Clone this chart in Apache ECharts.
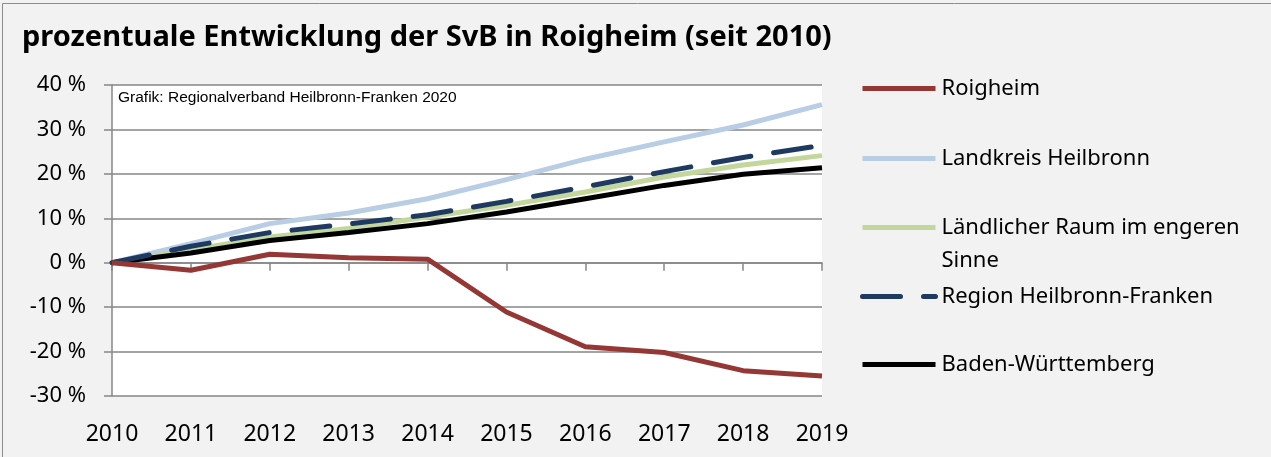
<!DOCTYPE html>
<html>
<head>
<meta charset="utf-8">
<script src="https://cdn.jsdelivr.net/npm/echarts@6/dist/echarts.min.js"></script>
<style>
  html, body { margin: 0; padding: 0; background: #f2f2f2; }
  #chart { width: 1271px; height: 457px; }
</style>
</head>
<body>
<div id="chart"></div>
<script>
const years = ['2010', '2011', '2012', '2013', '2014', '2015', '2016', '2017', '2018', '2019'];

const roigheim    = [0, -1.7, 1.9, 1.1, 0.8, -11.1, -18.9, -20.2, -24.3, -25.5];
const landkreis   = [0, 4.3, 8.8, 11.2, 14.4, 18.7, 23.3, 27.2, 31.0, 35.6];
const laendlich   = [0, 2.9, 5.8, 7.7, 10.3, 12.9, 15.9, 19.3, 22.0, 24.1];
const region      = [0, 3.7, 6.8, 8.7, 10.8, 13.8, 17.1, 20.5, 23.7, 26.4];
const bw          = [0, 2.2, 5.0, 6.8, 8.8, 11.4, 14.4, 17.4, 19.9, 21.4];

const FONT = '"Noto Sans", sans-serif';

const chart = echarts.init(document.getElementById('chart'));

const mkLegend = (name, top, formatter) => ({
  data: [name],
  left: 855,
  top: top,
  orient: 'vertical',
  itemWidth: 73,
  itemHeight: 14,
  formatter: formatter,
  itemStyle: { opacity: 0 },
  lineStyle: { width: 5 },
  textStyle: { fontFamily: FONT, fontSize: 22, color: '#000', lineHeight: 33, padding: [0, 0, 0, 1] },
  selectedMode: false
});

chart.setOption({
  backgroundColor: '#f2f2f2',
  animation: false,
  title: {
    text: 'prozentuale Entwicklung der SvB in Roigheim (seit 2010)',
    left: 17,
    top: 18,
    textStyle: { fontFamily: FONT, fontSize: 29, fontWeight: 'bold', color: '#000' }
  },
  graphic: [
    {
      type: 'rect',
      shape: { x: 2.5, y: 3.5, width: 1300, height: 500 },
      style: { fill: 'none', stroke: '#8c8c8c', lineWidth: 1 },
      silent: true
    },
    {
      type: 'rect',
      shape: { x: 112, y: 85, width: 710, height: 311 },
      style: { fill: '#ffffff' },
      z: -1,
      silent: true
    },
    {
      type: 'text',
      left: 118,
      top: 90,
      style: {
        text: 'Grafik: Regionalverband Heilbronn-Franken 2020',
        font: '15.5px "Liberation Sans", Arial, sans-serif',
        fill: '#000'
      },
      z: 10
    }
  ],
  legend: [
    mkLegend('Roigheim', 67),
    mkLegend('Landkreis Heilbronn', 137),
    mkLegend('Ländlicher Raum im engeren Sinne', 173, () => '\nLändlicher Raum im engeren\nSinne'),
    mkLegend('Region Heilbronn-Franken', 275),
    mkLegend('Baden-Württemberg', 343)
  ],
  grid: { left: 112, right: 1271 - 822, top: 85, bottom: 457 - 396, outerBoundsMode: 'none', containLabel: false },
  xAxis: [
    {
      // zero line with ticks
      type: 'category',
      data: years,
      boundaryGap: false,
      axisLine: { onZero: true, lineStyle: { color: '#868686', width: 1.5 } },
      axisTick: { show: true, length: 8, alignWithLabel: true, lineStyle: { color: '#868686', width: 1.5 } },
      axisLabel: { show: false },
      splitLine: { show: false }
    },
    {
      // year labels below the plot
      type: 'category',
      data: years,
      position: 'bottom',
      boundaryGap: false,
      axisLine: { show: false, onZero: false },
      axisTick: { show: false },
      axisLabel: { fontFamily: FONT, fontSize: 23, color: '#000', margin: 27 },
      splitLine: { show: false }
    }
  ],
  yAxis: {
    type: 'value',
    min: -30,
    max: 40,
    interval: 10,
    axisLine: { show: true, lineStyle: { color: '#868686', width: 1.5 } },
    axisTick: { show: true, length: 8, lineStyle: { color: '#868686', width: 1.5 } },
    axisLabel: { fontFamily: FONT, fontSize: 22, color: '#000', margin: 26, formatter: '{value} %' },
    splitLine: { show: true, lineStyle: { color: '#868686', width: 1.5 } }
  },
  series: [
    { name: 'Landkreis Heilbronn', type: 'line', data: landkreis, symbol: 'none', lineStyle: { color: '#b9cde5', width: 5 }, itemStyle: { color: '#b9cde5' } },
    { name: 'Ländlicher Raum im engeren Sinne', type: 'line', data: laendlich, symbol: 'none', lineStyle: { color: '#c3d69b', width: 5 }, itemStyle: { color: '#c3d69b' } },
    { name: 'Baden-Württemberg', type: 'line', data: bw, symbol: 'none', lineStyle: { color: '#000000', width: 5 }, itemStyle: { color: '#000000' } },
    { name: 'Region Heilbronn-Franken', type: 'line', data: region, symbol: 'none', lineStyle: { color: '#1f3a60', width: 5, type: [38, 23], cap: 'round' }, itemStyle: { color: '#1f3a60' } },
    { name: 'Roigheim', type: 'line', data: roigheim, symbol: 'none', lineStyle: { color: '#953735', width: 5 }, itemStyle: { color: '#953735' } }
  ]
});
</script>
</body>
</html>
